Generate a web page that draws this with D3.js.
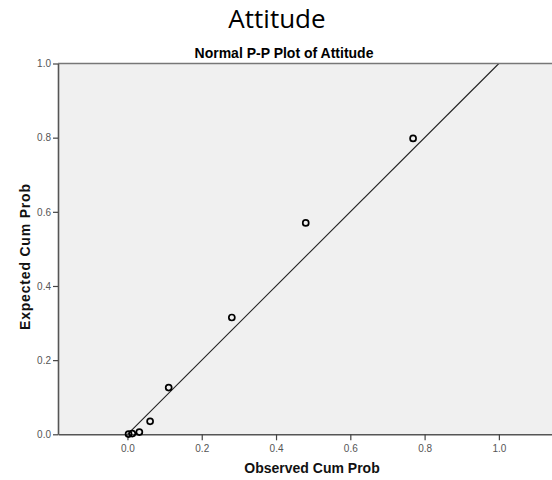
<!DOCTYPE html>
<html>
<head>
<meta charset="utf-8">
<script src="https://cdn.jsdelivr.net/npm/d3@7"></script>
<style>
  body { margin: 0; background: #fff; }
  svg { display: block; }
</style>
</head>
<body>
<svg id="chart" width="552" height="480"></svg>
<script>
// Observed vs expected cumulative probabilities for Attitude
const observedCum = [0.003, 0.013, 0.032, 0.061, 0.111, 0.281, 0.480, 0.769];
const expectedCum = [0.0005, 0.002, 0.006, 0.035, 0.126, 0.315, 0.570, 0.798];
const xTicks = [0.0, 0.2, 0.4, 0.6, 0.8, 1.0];
const yTicks = [0.0, 0.2, 0.4, 0.6, 0.8, 1.0];

const svg = d3.select("#chart");
const plot = { left: 58, top: 63.5, right: 552, bottom: 434.3 };

const x = d3.scaleLinear().domain([-0.187, 1.143]).range([plot.left, plot.right]);
const y = d3.scaleLinear().domain([0, 1]).range([plot.bottom, plot.top]);

// Titles
svg.append("text")
  .attr("x", 277).attr("y", 28)
  .attr("text-anchor", "middle")
  .attr("font-family", "Open Sans, sans-serif")
  .attr("font-size", 26)
  .attr("fill", "#000")
  .text("Attitude");

svg.append("text")
  .attr("x", 284).attr("y", 58)
  .attr("text-anchor", "middle")
  .attr("font-family", "Liberation Sans, Arial, sans-serif")
  .attr("font-weight", "bold")
  .attr("font-size", 14)
  .attr("fill", "#000")
  .text("Normal P-P Plot of Attitude");

// Plot background
svg.append("rect")
  .attr("x", plot.left).attr("y", plot.top)
  .attr("width", plot.right - plot.left)
  .attr("height", plot.bottom - plot.top)
  .attr("fill", "#f0f0f0");

// Reference diagonal
svg.append("line")
  .attr("x1", x(0)).attr("y1", y(0))
  .attr("x2", x(1)).attr("y2", y(1))
  .attr("stroke", "#222").attr("stroke-width", 1.1);

// Frame top
svg.append("line")
  .attr("x1", plot.left).attr("x2", plot.right)
  .attr("y1", plot.top).attr("y2", plot.top)
  .attr("stroke", "#777").attr("stroke-width", 1.4);

// Axes
const xAxis = d3.axisBottom(x).tickValues(xTicks).tickFormat(d3.format(".1f")).tickSize(6).tickSizeOuter(0);
const yAxis = d3.axisLeft(y).tickValues(yTicks).tickFormat(d3.format(".1f")).tickSize(5).tickSizeOuter(0);

const gx = svg.append("g").attr("transform", `translate(0,${plot.bottom})`).call(xAxis);
const gy = svg.append("g").attr("transform", `translate(${plot.left},0)`).call(yAxis);

[gx, gy].forEach(a => {
  a.select(".domain").attr("stroke", "#555").attr("stroke-width", 1.6);
  a.selectAll(".tick line").attr("stroke", "#444").attr("stroke-width", 1.2);
  a.selectAll(".tick text")
    .attr("font-family", "Liberation Sans, Arial, sans-serif")
    .attr("font-size", 10)
    .attr("fill", "#555");
});
gx.selectAll(".tick text").attr("dy", "0.85em");
gy.selectAll(".tick text").attr("dx", "0.1em");

// Points
svg.append("g").selectAll("circle")
  .data(observedCum.map((d, i) => [d, expectedCum[i]]))
  .join("circle")
  .attr("cx", d => x(d[0]))
  .attr("cy", d => y(d[1]))
  .attr("r", 3)
  .attr("fill", "none")
  .attr("stroke", "#000")
  .attr("stroke-width", 1.7);

// Axis titles
svg.append("text")
  .attr("x", 312).attr("y", 473)
  .attr("text-anchor", "middle")
  .attr("font-family", "Liberation Sans, Arial, sans-serif")
  .attr("font-weight", "bold")
  .attr("font-size", 14)
  .attr("fill", "#111")
  .text("Observed Cum Prob");

svg.append("text")
  .attr("transform", `translate(30,257) rotate(-90)`)
  .attr("text-anchor", "middle")
  .attr("font-family", "Liberation Sans, Arial, sans-serif")
  .attr("font-weight", "bold")
  .attr("font-size", 14)
  .attr("textLength", 146)
  .attr("lengthAdjust", "spacing")
  .attr("fill", "#111")
  .text("Expected Cum Prob");
</script>
</body>
</html>
